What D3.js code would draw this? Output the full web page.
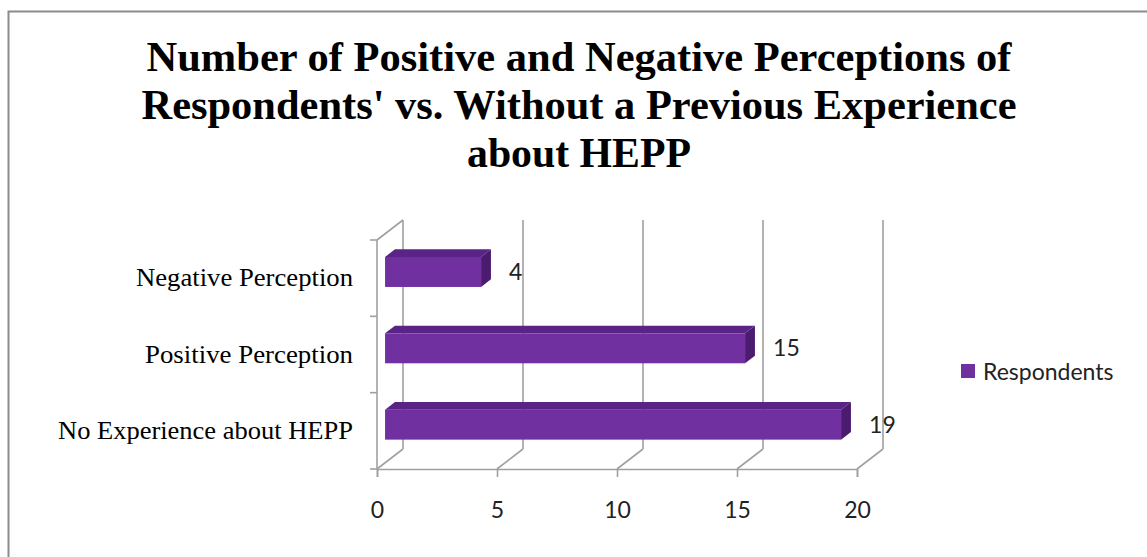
<!DOCTYPE html>
<html>
<head>
<meta charset="utf-8">
<script src="https://cdn.jsdelivr.net/npm/d3@7"></script>
<style>
  html, body { margin: 0; padding: 0; background: #fff; }
  svg { display: block; }
</style>
</head>
<body>
<svg id="chart" width="1147" height="557"></svg>
<script>
// Chart data
const titleLines = [
  "Number of Positive and Negative Perceptions of",
  "Respondents' vs. Without a Previous Experience",
  "about HEPP"
];
const categories = ["Negative Perception", "Positive Perception", "No Experience about HEPP"];
const values = [4, 15, 19];
const seriesName = "Respondents";
const xTicks = [0, 5, 10, 15, 20];

const svg = d3.select("#chart");
const W = 1147, H = 557;

const gridColor = "#a0a0a0";
const barFront = "#7030a0";
const barTop = "#5a2486";
const barSide = "#4a1b6e";
const sansFont = "Lato, 'Open Sans', sans-serif";
const serifFont = "'Liberation Serif', 'Times New Roman', serif";

// Outer frame (runs off the right and bottom edges)
svg.append("rect")
  .attr("x", 8.5).attr("y", 11.5)
  .attr("width", W + 20).attr("height", H + 20)
  .attr("fill", "#fff")
  .attr("stroke", "#8c8c8c").attr("stroke-width", 2);

// Title
const titleWidths = [865, 875, 224];
svg.append("text")
  .attr("text-anchor", "middle")
  .attr("font-family", serifFont)
  .attr("font-weight", "bold")
  .attr("font-size", 42)
  .attr("fill", "#000")
  .selectAll("tspan")
  .data(titleLines)
  .join("tspan")
  .attr("x", 579)
  .attr("y", (d, i) => 71 + i * 48)
  .attr("textLength", (d, i) => titleWidths[i])
  .attr("lengthAdjust", "spacingAndGlyphs")
  .text(d => d);

// Pseudo-3D plot geometry: front plane plus a depth offset
const depth = { dx: 26, dy: -20 };
const x = d3.scaleLinear().domain([0, 20]).range([377, 857]);
const y = d3.scaleBand().domain(categories).range([240, 469]).paddingInner(0).paddingOuter(0);

const g = svg.append("g");

// Back wall vertical gridlines
g.selectAll("line.grid")
  .data(xTicks)
  .join("line")
  .attr("class", "grid")
  .attr("x1", d => x(d) + depth.dx).attr("x2", d => x(d) + depth.dx)
  .attr("y1", 469 + depth.dy).attr("y2", 240 + depth.dy)
  .attr("stroke", gridColor).attr("stroke-width", 1.6);

// Floor diagonals
g.selectAll("line.floor")
  .data(xTicks)
  .join("line")
  .attr("class", "floor")
  .attr("x1", d => x(d)).attr("x2", d => x(d) + depth.dx)
  .attr("y1", 469).attr("y2", 469 + depth.dy)
  .attr("stroke", gridColor).attr("stroke-width", 1.6);

// Left wall: front edge and top diagonal
g.append("line")
  .attr("x1", x(0)).attr("x2", x(0))
  .attr("y1", 240).attr("y2", 469)
  .attr("stroke", gridColor).attr("stroke-width", 1.6);
g.append("line")
  .attr("x1", x(0)).attr("x2", x(0) + depth.dx)
  .attr("y1", 240).attr("y2", 240 + depth.dy)
  .attr("stroke", gridColor).attr("stroke-width", 1.6);

// Category axis (left, ticks at band boundaries)
const catBounds = categories.map(c => y(c)).concat([y.range()[1]]);
g.selectAll("line.ytick")
  .data(catBounds)
  .join("line")
  .attr("class", "ytick")
  .attr("x1", x(0) - 7).attr("x2", x(0))
  .attr("y1", d => d).attr("y2", d => d)
  .attr("stroke", gridColor).attr("stroke-width", 1.6);

// Value axis along the front floor edge
const xAxis = d3.axisBottom(x).tickValues(xTicks).tickSize(8).tickPadding(25).tickFormat(d3.format("d"));
const xg = svg.append("g").attr("transform", "translate(0,469)").call(xAxis);
xg.select(".domain").attr("stroke", gridColor).attr("stroke-width", 1.6);
xg.selectAll(".tick line").attr("stroke", gridColor).attr("stroke-width", 1.6);
xg.selectAll(".tick text")
  .attr("font-family", sansFont).attr("font-size", 23).attr("fill", "#222");

// Category labels
const catWidths = [217, 208, 295];
svg.append("g").selectAll("text")
  .data(categories)
  .join("text")
  .attr("x", 353)
  .attr("y", d => y(d) + y.bandwidth() / 2 + 8)
  .attr("text-anchor", "end")
  .attr("font-family", serifFont)
  .attr("font-size", 25)
  .attr("textLength", (d, i) => catWidths[i])
  .attr("lengthAdjust", "spacingAndGlyphs")
  .attr("fill", "#000")
  .text(d => d);

// Bars: front face, top face, right side face
const f1 = 0.31, f2 = 0.69, barH = 30;
const bars = categories.map((c, i) => ({ c, v: values[i] }));
const bg = svg.append("g");
bars.forEach(b => {
  const x0 = x(0) + f1 * depth.dx;
  const x1 = x(b.v) + f1 * depth.dx;
  const yTop = y(b.c) + y.bandwidth() / 2 + f1 * depth.dy - barH / 2;
  const yBot = yTop + barH;
  const ddx = (f2 - f1) * depth.dx, ddy = (f2 - f1) * depth.dy;
  bg.append("polygon")
    .attr("points", [[x0, yTop], [x0 + ddx, yTop + ddy], [x1 + ddx, yTop + ddy], [x1, yTop]].join(" "))
    .attr("fill", barTop);
  bg.append("polygon")
    .attr("points", [[x1, yTop], [x1 + ddx, yTop + ddy], [x1 + ddx, yBot + ddy], [x1, yBot]].join(" "))
    .attr("fill", barSide);
  bg.append("rect")
    .attr("x", x0).attr("y", yTop)
    .attr("width", x1 - x0).attr("height", barH)
    .attr("fill", barFront);
  // Value label
  bg.append("text")
    .attr("x", x1 + 28)
    .attr("y", yTop + barH / 2 + 8)
    .attr("font-family", sansFont)
    .attr("font-size", 23)
    .attr("fill", "#222")
    .text(b.v);
});

// Legend
const lg = svg.append("g").attr("transform", "translate(961,364)");
lg.append("rect").attr("width", 14).attr("height", 14).attr("fill", barFront);
lg.append("text")
  .attr("x", 22).attr("y", 16)
  .attr("font-family", sansFont).attr("font-size", 23).attr("fill", "#222")
  .text(seriesName);
</script>
</body>
</html>
